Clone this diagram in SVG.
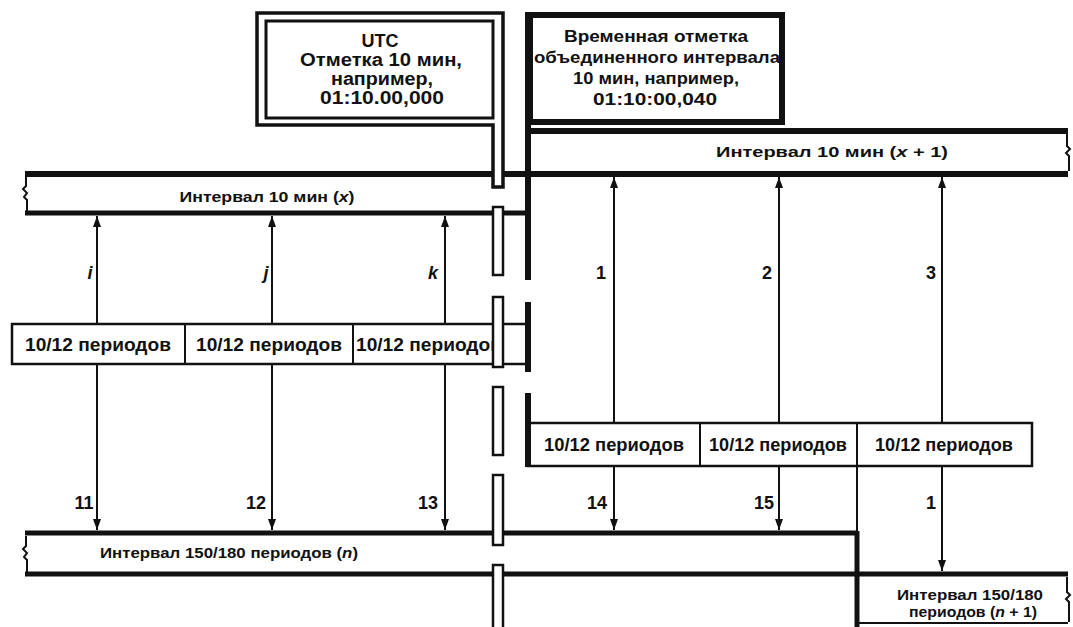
<svg xmlns="http://www.w3.org/2000/svg" width="1073" height="627" viewBox="0 0 1073 627">
<defs>
<style>
text{font-family:"Liberation Sans",Arial,sans-serif;font-weight:bold;fill:#111}
.t18{font-size:18px}
.t17{font-size:17px}
.t15{font-size:15px}
.lbl{font-size:18px}
.it{font-style:italic}
.box{fill:#fff;stroke:#111;stroke-width:2.5}
.thick{stroke:#111;stroke-width:6;fill:none}
.bar{stroke:#111;stroke-width:5;fill:none}
.thin{stroke:#111;stroke-width:2;fill:none}
.brk{stroke:#111;stroke-width:2;fill:none}
.pole{fill:#fff;stroke:#111;stroke-width:2.5}
.arr{stroke:#111;stroke-width:2;fill:none}
</style>
<marker id="ah" markerUnits="userSpaceOnUse" markerWidth="11" markerHeight="8" viewBox="0 0 11 8" refX="11" refY="4" orient="auto">
<path d="M0,0 L11,4 L0,8 Z" fill="#111"/>
</marker>
</defs>
<rect width="1073" height="627" fill="#fff"/>

<g id="bar-x1">
<line class="thick" x1="528" y1="131" x2="1068" y2="131"/>
<line class="thick" x1="25" y1="174" x2="1068" y2="174"/>
<path class="brk" d="M1067,134 V146 L1070,149 L1066,153 L1069,156 V171"/>
<text class="t15" x="832" y="157" text-anchor="middle" textLength="232" lengthAdjust="spacingAndGlyphs">Интервал 10 мин (<tspan class="it">x</tspan> + 1)</text>
</g>

<g id="bar-x">
<line class="bar" x1="25" y1="213" x2="528" y2="213"/>
<path class="brk" d="M26,177 V186 L23,189 L27,193 L24,197 L27,200 V211"/>
<text class="t15" x="267" y="202" text-anchor="middle" textLength="175" lengthAdjust="spacingAndGlyphs">Интервал 10 мин (<tspan class="it">x</tspan>)</text>
</g>

<g id="bar-n">
<line class="bar" x1="25" y1="533" x2="857" y2="533"/>
<line class="bar" x1="25" y1="574" x2="1068" y2="574"/>
<path class="brk" d="M26,536 V546 L23,549 L27,553 L24,557 L27,560 V572"/>
<text class="t15" x="100" y="558" textLength="258" lengthAdjust="spacingAndGlyphs">Интервал 150/180 периодов (<tspan class="it">n</tspan>)</text>
</g>

<g id="bar-n1">
<line class="bar" x1="857" y1="531" x2="857" y2="627"/>
<line class="thin" x1="857" y1="623" x2="1068" y2="623"/>
<path class="brk" d="M1067,577 V592 L1070,595 L1066,599 L1069,602 V622"/>
<text class="t15" x="970" y="600" text-anchor="middle" textLength="146" lengthAdjust="spacingAndGlyphs">Интервал 150/180</text>
<text class="t15" x="973" y="617" text-anchor="middle" textLength="128" lengthAdjust="spacingAndGlyphs">периодов (<tspan class="it">n</tspan> + 1)</text>
</g>

<g id="row-left">
<rect class="box" x="12" y="324" width="516" height="40"/>
<line class="thin" x1="185" y1="324" x2="185" y2="364"/>
<line class="thin" x1="353" y1="324" x2="353" y2="364"/>
<text class="t18" x="98" y="351" text-anchor="middle" textLength="146" lengthAdjust="spacingAndGlyphs">10/12 периодов</text>
<text class="t18" x="269" y="351" text-anchor="middle" textLength="146" lengthAdjust="spacingAndGlyphs">10/12 периодов</text>
<text class="t18" x="356" y="351" textLength="146" lengthAdjust="spacingAndGlyphs">10/12 периодов</text>
</g>

<g id="row-right">
<rect class="box" x="528" y="423" width="504" height="43"/>
<line class="thin" x1="700" y1="423" x2="700" y2="466"/>
<line class="thin" x1="857" y1="423" x2="857" y2="466"/>
<text class="t18" x="614" y="451" text-anchor="middle" textLength="140" lengthAdjust="spacingAndGlyphs">10/12 периодов</text>
<text class="t18" x="778" y="451" text-anchor="middle" textLength="138" lengthAdjust="spacingAndGlyphs">10/12 периодов</text>
<text class="t18" x="944" y="451" text-anchor="middle" textLength="138" lengthAdjust="spacingAndGlyphs">10/12 периодов</text>
</g>

<g id="thick-line">
<line class="thick" x1="528" y1="12" x2="528" y2="280"/>
<line class="thick" x1="528" y1="302" x2="528" y2="372"/>
<line class="thick" x1="528" y1="393" x2="528" y2="467"/>
</g>

<g id="box-stamp">
<rect x="530" y="15" width="252" height="107" fill="#fff" stroke="#111" stroke-width="6"/>
<text class="t17" x="656" y="42" text-anchor="middle" textLength="184" lengthAdjust="spacingAndGlyphs">Временная отметка</text>
<text class="t17" x="657" y="63" text-anchor="middle" textLength="246" lengthAdjust="spacingAndGlyphs">объединенного интервала</text>
<text class="t17" x="656" y="84" text-anchor="middle" textLength="166" lengthAdjust="spacingAndGlyphs">10 мин, например,</text>
<text class="t17" x="655" y="105" text-anchor="middle" textLength="124" lengthAdjust="spacingAndGlyphs">01:10:00,040</text>
</g>

<g id="box-utc">
<path d="M257,13 H503 V187 H493 V125 H257 Z" fill="#fff" stroke="#111" stroke-width="3.5"/>
<rect x="266" y="21" width="227" height="97" fill="none" stroke="#111" stroke-width="3"/>
<text class="t18" x="380" y="47" text-anchor="middle">UTC</text>
<text class="t18" x="381" y="66" text-anchor="middle" textLength="162" lengthAdjust="spacingAndGlyphs">Отметка 10 мин,</text>
<text class="t18" x="382" y="85" text-anchor="middle" textLength="102" lengthAdjust="spacingAndGlyphs">например,</text>
<text class="t18" x="382" y="104" text-anchor="middle" textLength="124" lengthAdjust="spacingAndGlyphs">01:10.00,000</text>
</g>

<g id="connectors">
<line class="arr" x1="97" y1="324" x2="97" y2="216" marker-end="url(#ah)"/>
<line class="arr" x1="272" y1="324" x2="272" y2="216" marker-end="url(#ah)"/>
<line class="arr" x1="445" y1="324" x2="445" y2="216" marker-end="url(#ah)"/>
<line class="arr" x1="614" y1="423" x2="614" y2="177" marker-end="url(#ah)"/>
<line class="arr" x1="779" y1="423" x2="779" y2="177" marker-end="url(#ah)"/>
<line class="arr" x1="942" y1="423" x2="942" y2="177" marker-end="url(#ah)"/>
<line class="arr" x1="97" y1="364" x2="97" y2="530" marker-end="url(#ah)"/>
<line class="arr" x1="272" y1="364" x2="272" y2="530" marker-end="url(#ah)"/>
<line class="arr" x1="445" y1="364" x2="445" y2="530" marker-end="url(#ah)"/>
<line class="arr" x1="614" y1="466" x2="614" y2="530" marker-end="url(#ah)"/>
<line class="arr" x1="779" y1="466" x2="779" y2="530" marker-end="url(#ah)"/>
<line class="arr" x1="942" y1="466" x2="942" y2="571" marker-end="url(#ah)"/>
<line class="thin" x1="857" y1="466" x2="857" y2="532"/>
<text class="lbl it" x="90" y="279" text-anchor="middle">i</text>
<text class="lbl it" x="266" y="279" text-anchor="middle">j</text>
<text class="lbl it" x="433" y="279" text-anchor="middle">k</text>
<text class="lbl" x="601" y="279" text-anchor="middle">1</text>
<text class="lbl" x="767" y="279" text-anchor="middle">2</text>
<text class="lbl" x="931" y="279" text-anchor="middle">3</text>
<text class="lbl" x="84" y="509" text-anchor="middle">11</text>
<text class="lbl" x="256" y="509" text-anchor="middle">12</text>
<text class="lbl" x="428" y="509" text-anchor="middle">13</text>
<text class="lbl" x="597" y="509" text-anchor="middle">14</text>
<text class="lbl" x="764" y="509" text-anchor="middle">15</text>
<text class="lbl" x="931" y="509" text-anchor="middle">1</text>
</g>

<g id="pole">
<rect class="pole" x="493" y="207" width="10" height="68"/>
<rect class="pole" x="493" y="297" width="10" height="70"/>
<rect class="pole" x="493" y="387" width="10" height="68"/>
<rect class="pole" x="493" y="475" width="10" height="70"/>
<rect class="pole" x="493" y="565" width="10" height="66"/>
</g>
</svg>
